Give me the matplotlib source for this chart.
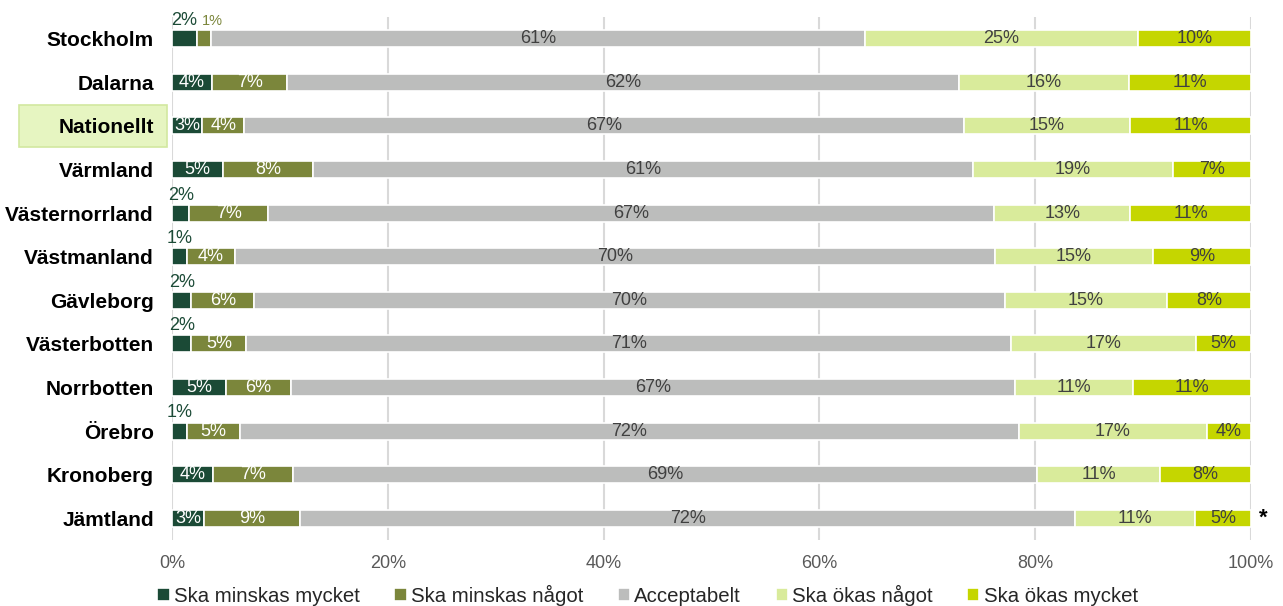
import matplotlib.pyplot as plt
import matplotlib.transforms as mtransforms
from matplotlib.patches import Rectangle
import numpy as np

plt.rcParams['font.family'] = ['Liberation Sans', 'DejaVu Sans']

regions = ['Stockholm', 'Dalarna', 'Nationellt', 'Värmland', 'Västernorrland',
           'Västmanland', 'Gävleborg', 'Västerbotten', 'Norrbotten', 'Örebro',
           'Kronoberg', 'Jämtland']

series = ['Ska minskas mycket', 'Ska minskas något', 'Acceptabelt',
          'Ska ökas något', 'Ska ökas mycket']

minskas_mycket = [2.3, 3.7, 2.8, 4.7, 1.6, 1.4, 1.8, 1.8, 5.0, 1.4, 3.8, 3.0]
minskas_nagot  = [1.3, 7.0, 3.9, 8.4, 7.3, 4.4, 5.8, 5.1, 6.0, 4.9, 7.4, 8.9]
acceptabelt    = [60.6, 62.2, 66.7, 61.1, 67.3, 70.5, 69.6, 70.9, 67.1, 72.2, 69.0, 71.8]
okas_nagot     = [25.3, 15.8, 15.4, 18.6, 12.6, 14.6, 15.0, 17.1, 11.0, 17.4, 11.4, 11.1]
okas_mycket    = [10.5, 11.3, 11.2, 7.2, 11.2, 9.1, 7.8, 5.1, 10.9, 4.1, 8.4, 5.2]

colors = ['#1b4a36', '#7b863b', '#bcbdbc', '#d9eb9b', '#c5d600']
text_colors = ['white', 'white', '#404040', '#404040', '#404040']
above_colors = ['#1b4a36', '#7b863b']

data = np.array([minskas_mycket, minskas_nagot, acceptabelt, okas_nagot, okas_mycket])
data = data / data.sum(axis=0) * 100

fig = plt.figure(figsize=(12.83, 6.06), dpi=100)
ax = fig.add_axes([172/1283, 1 - 540/606, (1251 - 172)/1283, 523/606])

y = np.arange(len(regions))
left = np.zeros(len(regions))
for k in range(5):
    ax.barh(y, data[k], left=left, height=0.39, color=colors[k],
            edgecolor='white', linewidth=1.2, label=series[k], zorder=3)
    for i in range(len(regions)):
        v = data[k, i]
        cx = left[i] + v / 2
        lab = f'{v:.0f}%'
        if v < 2.5:
            if k == 0:
                ax.text(cx, y[i] - 0.22, lab, ha='center', va='bottom',
                        fontsize=13, color=above_colors[0], zorder=4)
            else:
                ax.text(cx + 0.8, y[i] - 0.24, lab, ha='center', va='bottom',
                        fontsize=10.5, color=above_colors[1], zorder=4)
        else:
            ax.text(cx, y[i], lab, ha='center', va='center', fontsize=13,
                    color=text_colors[k], zorder=4)
    left += data[k]

ax.set_xlim(0, 100)
ax.set_ylim(len(regions) - 0.5, -0.5)
ax.set_yticks(y)
ax.set_yticklabels(regions, fontsize=15, fontweight='bold', color='black')
ax.set_xticks(np.arange(0, 101, 20))
ax.set_xticklabels([f'{t}%' for t in range(0, 101, 20)], fontsize=13, color='#595959')
ax.tick_params(axis='both', length=0)
ax.tick_params(axis='y', pad=13)
ax.tick_params(axis='x', pad=11)
ax.grid(axis='x', color='#d9d9d9', linewidth=1.5, zorder=0)
for s in ax.spines.values():
    s.set_visible(False)

# highlight box behind "Nationellt"
trans = mtransforms.blended_transform_factory(fig.transFigure, ax.transData)
ax.add_patch(Rectangle((19/1283, 2 - 0.485), 148/1283, 0.97, transform=trans,
                       facecolor='#e6f5c1', edgecolor='#d2e8a0', linewidth=1.2,
                       clip_on=False, zorder=0))

ax.text(101.1, 11, '*', ha='center', va='center', fontsize=16,
        fontweight='bold', color='black')

fig.legend(loc='center', bbox_to_anchor=(0.5047, 1 - 595/606), ncol=5,
           frameon=False, fontsize=14.7, handlelength=0.6, handleheight=0.6,
           handletextpad=0.2, columnspacing=1.7, labelcolor='#262626')

fig.savefig('out.png', dpi=100)
